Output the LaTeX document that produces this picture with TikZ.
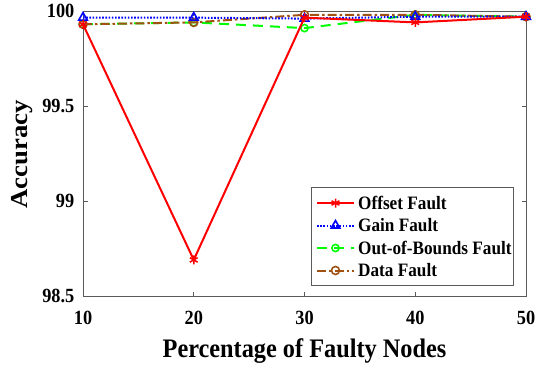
\documentclass[tikz,border=0pt]{standalone}
\usepackage{fontspec}
\usepackage{graphicx}
\setmainfont{Liberation Serif}
\usetikzlibrary{plotmarks}
\definecolor{brn}{RGB}{160,82,20}
\definecolor{axc}{RGB}{90,90,90}
\newcommand{\vstr}[1]{\scalebox{1}[1.1]{#1}}
\newcommand{\hstr}[1]{\scalebox{1.1}[1]{#1}}
\tikzset{
  ticklab/.style={font=\bfseries\fontsize{18.3}{18.3}\selectfont, inner sep=0pt},
  leglab/.style={font=\bfseries\fontsize{17.2}{17.2}\selectfont, inner sep=0pt, anchor=west},
  axlab/.style={font=\bfseries\fontsize{24.3}{24.3}\selectfont, inner sep=0pt},
  axline/.style={axc, line width=0.8pt},
  offs/.style={red, line width=2pt, mark=asterisk, mark size=4.5pt, mark options={solid, line width=1.5pt}},
  gain/.style={blue, line width=2pt, dash pattern=on 1.6pt off 1.6pt, mark=triangle, mark size=5pt, mark options={solid, line width=1.6pt}},
  oob/.style={green, line width=2pt, dash pattern=on 10pt off 7pt, mark=o, mark size=3.6pt, mark options={solid, line width=1.6pt}},
  dat/.style={brn, line width=2pt, dash pattern=on 9pt off 3pt on 2.5pt off 3pt, mark=o, mark size=4pt, mark options={solid, line width=1.6pt}},
}
\begin{document}
\begin{tikzpicture}[x=1pt,y=-1pt]
\useasboundingbox (0,0) rectangle (536,365);
% axes box
\draw[axline] (83,11) rectangle (526,296);
% ticks
\foreach \v [count=\i from 0] in {10,20,30,40,50}{
  \pgfmathsetmacro{\xx}{83+\i*110.75}
  \draw[axline] (\xx,296) -- (\xx,291.5);
  \draw[axline] (\xx,11) -- (\xx,15.5);
  \node[ticklab, anchor=base] (xt\i) at (\xx,324) {\vstr{\v}};
}
\foreach \v/\yy [count=\i] in {100/11,99.5/106,99/201,98.5/296}{
  \draw[axline] (83,\yy) -- (87.5,\yy);
  \draw[axline] (526,\yy) -- (521.5,\yy);
  \node[ticklab, anchor=east] (yt\i) at (74.5,\yy) {\vstr{\v}};
}
\node[axlab, anchor=base] (xl) at (304.5,357) {\vstr{Percentage of Faulty Nodes}};
\node[axlab, rotate=90, anchor=base] (yl) at (27.5,154.5) {\hstr{Accuracy}};
% data
\begin{scope}[xshift=83pt, yshift=-296pt, x=11.075pt, y=190pt]
\draw[oob] plot coordinates {(0,1.43) (10,1.44) (20,1.41) (30,1.48) (40,1.47)};
\draw[dat] plot coordinates {(0,1.43) (10,1.44) (20,1.48) (30,1.48) (40,1.47)};
\draw[gain] plot coordinates {(0,1.465) (10,1.465) (20,1.46) (30,1.47) (40,1.47)};
\draw[offs] plot coordinates {(0,1.43) (10,0.19) (20,1.465) (30,1.44) (40,1.47)};
\end{scope}
% legend
\draw[axline, fill=white] (311,187) rectangle (513,285);
\foreach \s/\t/\yy [count=\i] in {offs/Offset Fault/203, gain/Gain Fault/225.5, oob/Out-of-Bounds Fault/248, dat/Data Fault/270.5}{
  \draw[\s, mark indices={2}] plot coordinates {(317,\yy) (335.5,\yy) (354,\yy)};
  \node[leglab] (lg\i) at (358,\yy) {\vstr{\t}};
}
\end{tikzpicture}
\end{document}
